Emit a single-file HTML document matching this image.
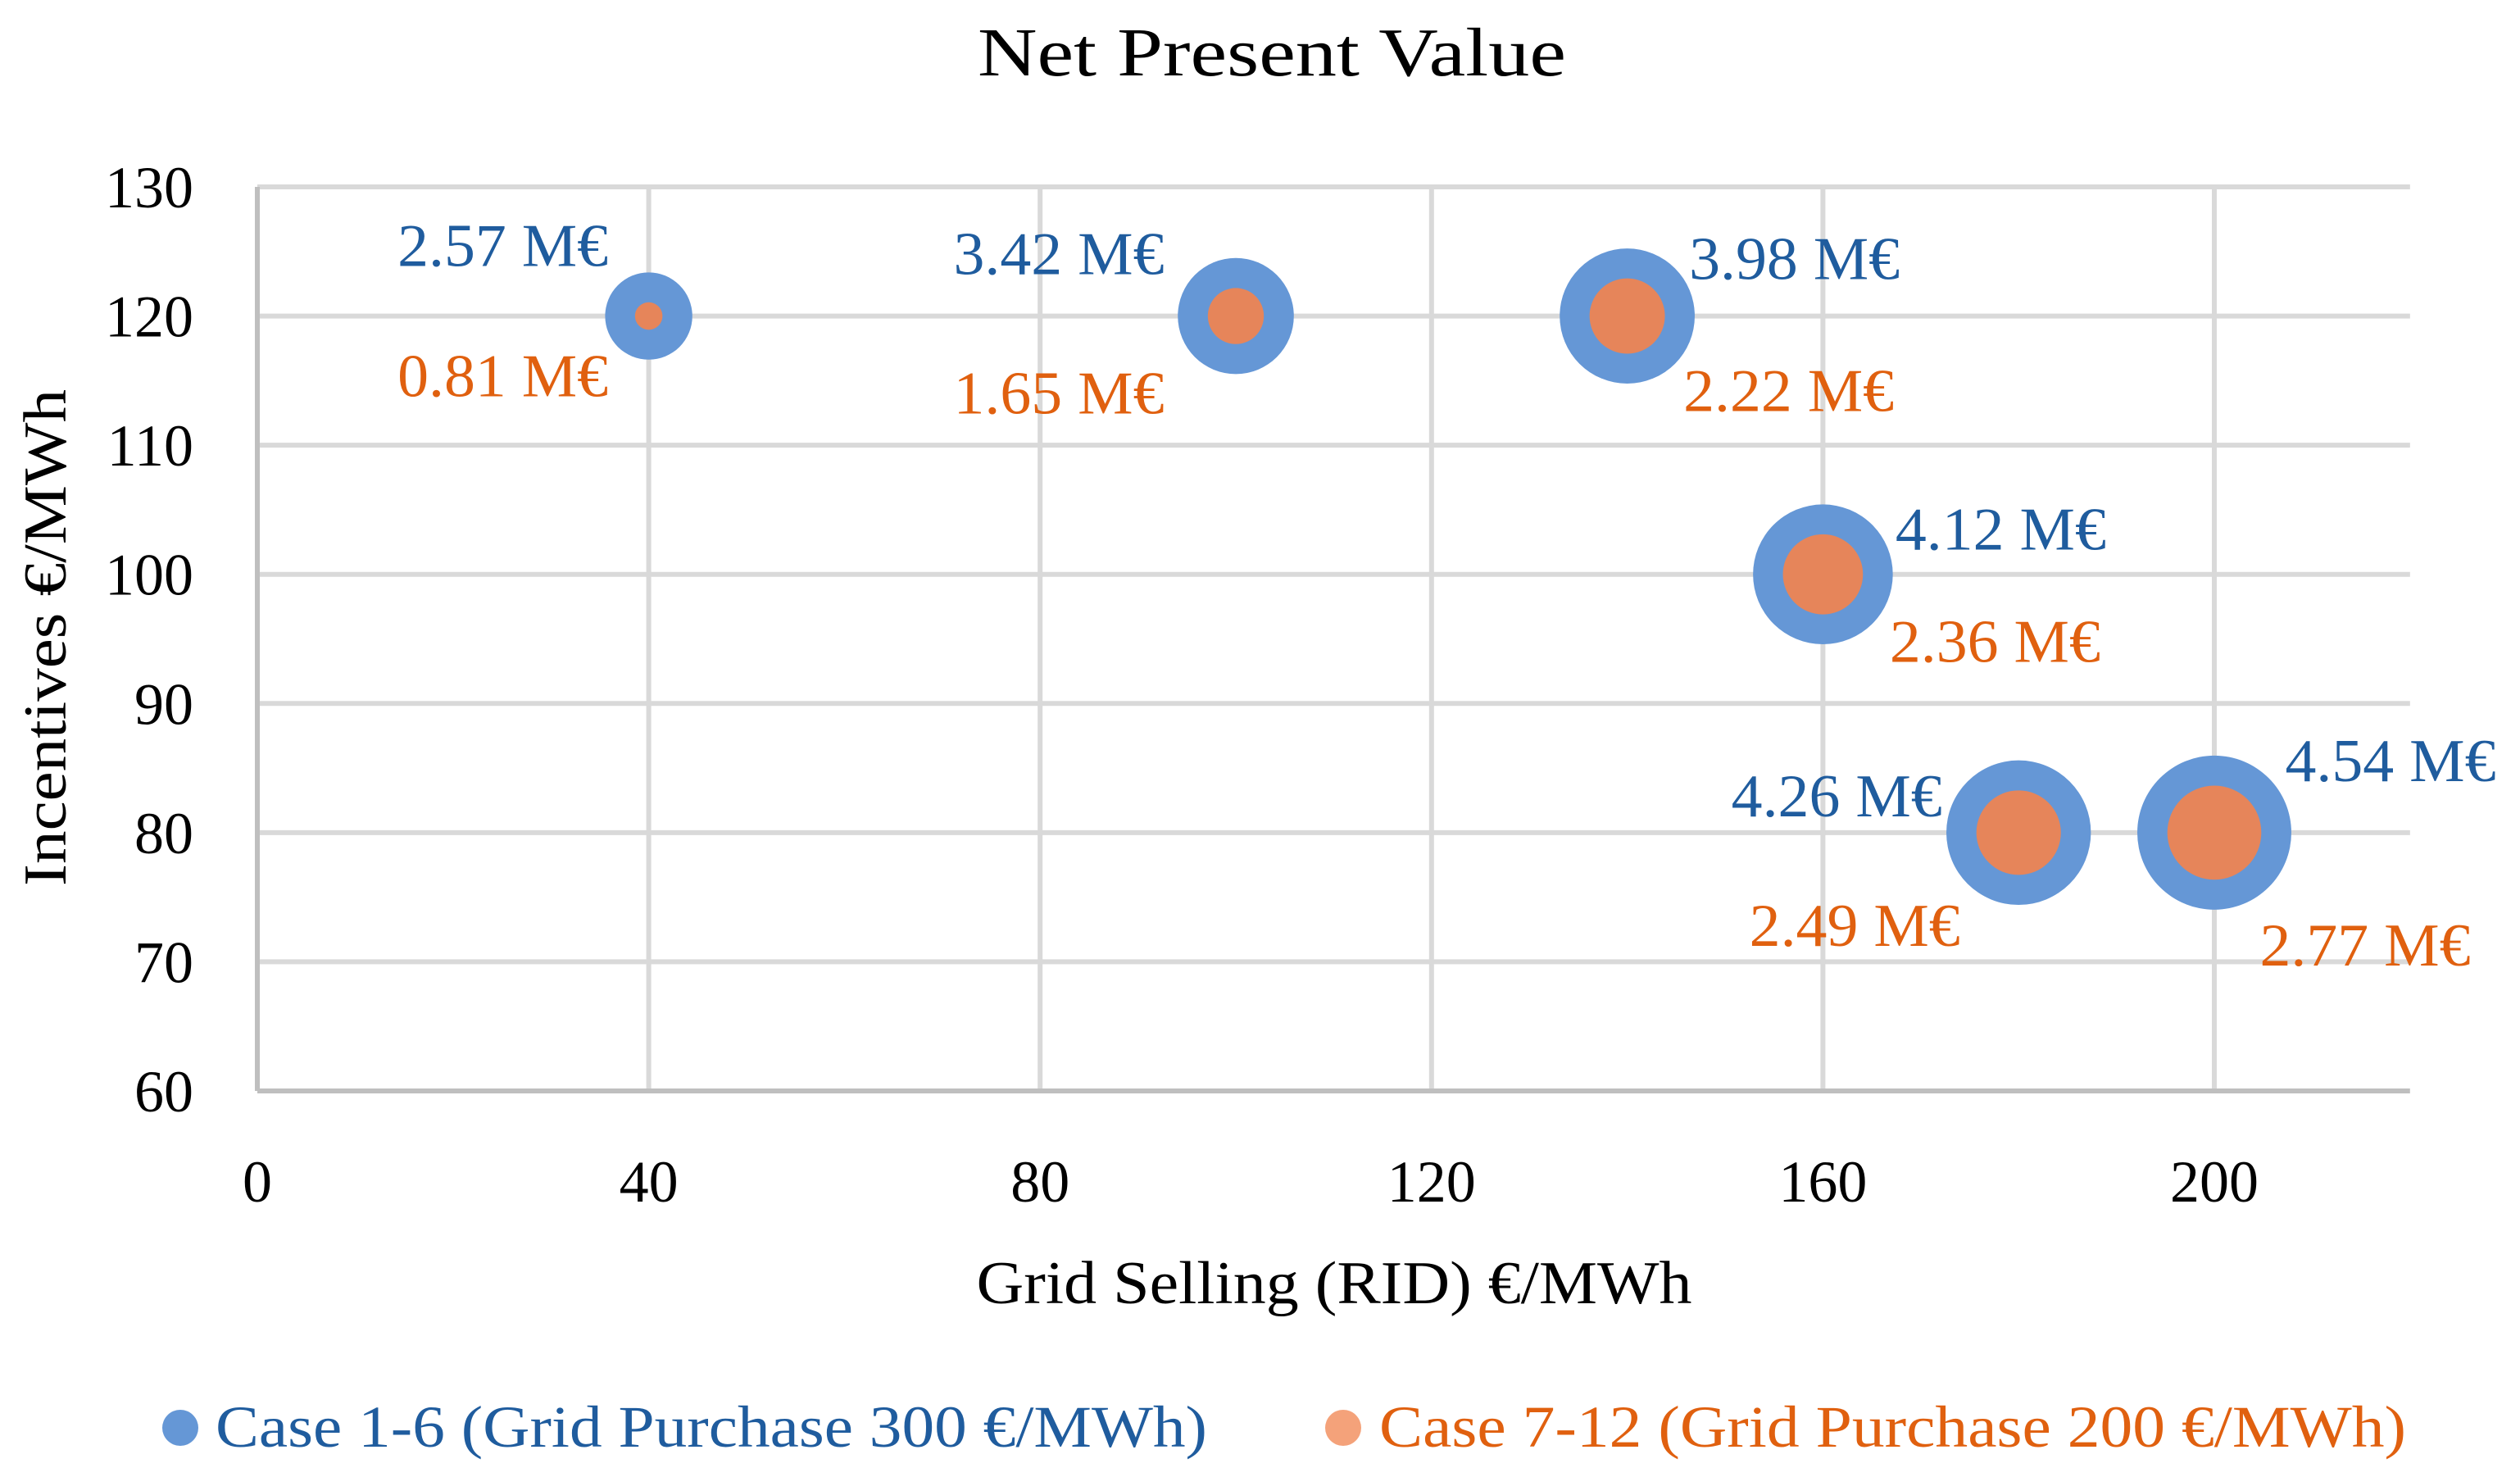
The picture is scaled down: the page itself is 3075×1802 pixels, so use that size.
<!DOCTYPE html>
<html><head><meta charset="utf-8"><title>Net Present Value</title>
<style>
html,body{margin:0;padding:0;background:#fff;}
svg{display:block;font-family:"Liberation Serif",serif;}
</style></head>
<body>
<svg id="chart" width="3075" height="1802" viewBox="0 0 3075 1802" xmlns="http://www.w3.org/2000/svg">
<rect width="3075" height="1802" fill="#fff"/>
<text x="1552" y="92" font-size="84" text-anchor="middle" fill="#000" textLength="718" lengthAdjust="spacingAndGlyphs">Net Present Value</text>
<g id="grid"></g>
<g id="ticks"></g>
<g id="bubbles"></g>
<g id="labels"></g>
<text transform="translate(80,778) rotate(-90)" font-size="74" text-anchor="middle" fill="#000" textLength="606" lengthAdjust="spacingAndGlyphs">Incentives €/MWh</text>
<text x="1628" y="1590" font-size="74" text-anchor="middle" fill="#000" textLength="873" lengthAdjust="spacingAndGlyphs">Grid Selling (RID) €/MWh</text>
<g>
<g>
<circle cx="220" cy="1742" r="22" fill="#6597D6"/>
<text x="263" y="1765" font-size="72" fill="#1F5C9E" textLength="1210" lengthAdjust="spacingAndGlyphs">Case 1-6 (Grid Purchase 300 €/MWh)</text>
</g>
<g>
<circle cx="1639" cy="1742" r="22" fill="#F4A27A"/>
<text x="1683" y="1765" font-size="72" fill="#E0600F" textLength="1253" lengthAdjust="spacingAndGlyphs">Case 7-12 (Grid Purchase 200 €/MWh)</text>
</g>
</g>
</svg>
<script>
const xCats = [40, 100, 140, 160, 180, 200];
const yVals = [120, 120, 120, 100, 80, 80];
const blueNPV = [2.57, 3.42, 3.98, 4.12, 4.26, 4.54];
const orangeNPV = [0.81, 1.65, 2.22, 2.36, 2.49, 2.77];
const xTicks = [0, 40, 80, 120, 160, 200];
const yTicks = [60, 70, 80, 90, 100, 110, 120, 130];

const NS = "http://www.w3.org/2000/svg";
const X0 = 314, XPX = (2702 - 314) / 200;
const Y0 = 1331, YPX = (1331 - 228) / 70;
function sx(v){ return X0 + v * XPX; }
function sy(v){ return Y0 - (v - 60) * YPX; }
function rs(v){ return v * 20.7; }
function mk(tag, attrs, parent){
  const e = document.createElementNS(NS, tag);
  for (const k in attrs) e.setAttribute(k, attrs[k]);
  parent.appendChild(e);
  return e;
}
const grid = document.getElementById('grid');
const ticks = document.getElementById('ticks');
const bub = document.getElementById('bubbles');
const lab = document.getElementById('labels');
const XMAX = sx(220);

yTicks.forEach(function(t){
  if (t === 60) return;
  const l = mk('line', {x1: X0, x2: XMAX, y1: sy(t), y2: sy(t), stroke: '#D9D9D9', 'stroke-width': 6}, grid);
  
  
});
xTicks.forEach(function(t){
  if (t === 0) return;
  const l = mk('line', {x1: sx(t), x2: sx(t), y1: sy(130), y2: Y0, stroke: '#D9D9D9', 'stroke-width': 6}, grid);
  
  
});
const xa = mk('line', {x1: X0, x2: XMAX, y1: Y0, y2: Y0, stroke: '#BFBFBF', 'stroke-width': 6}, grid);


const ya = mk('line', {x1: X0, x2: X0, y1: sy(130), y2: Y0, stroke: '#BFBFBF', 'stroke-width': 6}, grid);



yTicks.forEach(function(t){
  const e = mk('text', {x: 236, y: sy(t) + 25, 'font-size': 72, 'text-anchor': 'end', fill: '#000'}, ticks);
  e.textContent = t;
  
  
});
xTicks.forEach(function(t){
  const e = mk('text', {x: sx(t), y: 1466, 'font-size': 72, 'text-anchor': 'middle', fill: '#000'}, ticks);
  e.textContent = t;
  
  
});

xCats.forEach(function(x, i){
  const c = mk('circle', {cx: sx(x), cy: sy(yVals[i]), r: rs(blueNPV[i]), fill: '#6597D6'}, bub);
  
  
});
xCats.forEach(function(x, i){
  const c = mk('circle', {cx: sx(x), cy: sy(yVals[i]), r: rs(orangeNPV[i]), fill: '#E6855A'}, bub);
  
  
});

// label offsets relative to bubble center (layout only)
const blueOff = [[-178, -87], [-216, -77], [204, -71], [217, -56], [-222, -46], [215, -89]];
const orangeOff = [[-178, 72], [-216, 93], [197, 90], [210, 81], [-200, 112], [184, 136]];
xCats.forEach(function(x, i){
  const b = mk('text', {x: sx(x) + blueOff[i][0], y: sy(yVals[i]) + blueOff[i][1] + 26, 'font-size': 74, 'text-anchor': 'middle', fill: '#1F5C9E', textLength: 257, lengthAdjust: 'spacingAndGlyphs'}, lab);
  b.textContent = blueNPV[i].toFixed(2) + ' M€';
  
  
  const o = mk('text', {x: sx(x) + orangeOff[i][0], y: sy(yVals[i]) + orangeOff[i][1] + 26, 'font-size': 74, 'text-anchor': 'middle', fill: '#E0600F', textLength: 257, lengthAdjust: 'spacingAndGlyphs'}, lab);
  o.textContent = orangeNPV[i].toFixed(2) + ' M€';
  
  
});
</script>
</body></html>
